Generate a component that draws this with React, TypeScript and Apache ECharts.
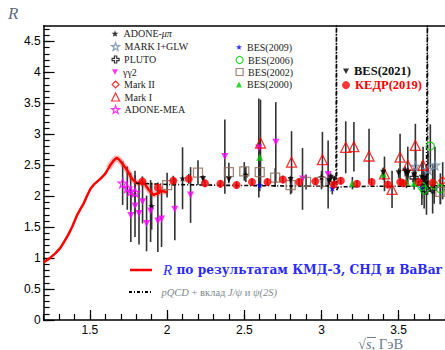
import React, { useEffect, useRef } from 'react';
import * as echarts from 'echarts';

// ---- axis ticks / labels ----
const xLabelTicks = [1.5, 2, 2.5, 3, 3.5];
const yLabelTicks = [0, 0.5, 1, 1.5, 2, 2.5, 3, 3.5, 4, 4.5];
const xMinorTicks = Array.from({ length: 27 }, (_, i) => Math.round((1.2 + i * 0.1) * 10) / 10);
const yMinorTicks = Array.from({ length: 48 }, (_, i) => Math.round(i * 0.1 * 10) / 10);

// ---- curves: [sqrt(s), R] ----
const redCurve = [
  [1.2, 0.93], [1.24, 1.0], [1.278, 1.08], [1.31, 1.17], [1.332, 1.26], [1.36, 1.38], [1.386, 1.51],
  [1.418, 1.7], [1.44, 1.8], [1.461, 1.89], [1.48, 2.0], [1.504, 2.12], [1.53, 2.2], [1.558, 2.26],
  [1.58, 2.31], [1.601, 2.37], [1.62, 2.45], [1.634, 2.51], [1.655, 2.58], [1.673, 2.62], [1.69, 2.59],
  [1.709, 2.53], [1.73, 2.46], [1.746, 2.4], [1.765, 2.31], [1.78, 2.26], [1.806, 2.21], [1.83, 2.22],
  [1.849, 2.22], [1.865, 2.16], [1.882, 2.1], [1.9, 2.05], [1.914, 2.02], [1.93, 2.04], [1.946, 2.05],
  [1.96, 2.09], [1.975, 2.08], [1.99, 2.07], [2.0, 2.06],
];
const pqcdCurve = [
  [1.8, 2.21], [2.0, 2.19], [2.4, 2.175], [2.8, 2.165], [3.0, 2.16], [3.08, 2.17], [3.094, 2.27],
  [3.0969, 4.9], [3.0985, 2.1], [3.11, 2.15], [3.3, 2.16], [3.6, 2.16], [3.68, 2.2], [3.686, 4.9],
  [3.688, 2.1], [3.7, 2.17], [3.8, 2.17],
];

// ---- measurements: [sqrt(s), R, error] ----
const adoneMuPi = [[1.9, 1.84, 0.38], [2.1, 2.29, 0.5], [2.51, 2.35, 0.12], [3.0, 2.31, 0.1]];
const markIGLW = [[3.61, 2.48, 0.25], [3.69, 2.43, 0.3], [3.735, 2.5, 0.3]];
const pluto = [[3.6, 2.3, 0.15], [3.65, 2.21, 0.35], [3.68, 2.1, 0.4], [3.72, 2.12, 0.4]];
const gg2 = [
  [1.765, 1.69, 0.43], [1.792, 1.84, 0.5], [1.818, 1.72, 0.5], [1.841, 1.91, 0.35], [1.867, 1.56, 0.45],
  [1.893, 1.76, 0.5], [1.94, 1.6, 0.5], [1.964, 1.63, 0.45], [2.05, 1.79, 0.5], [2.152, 2.02, 0.45],
  [2.374, 2.64, 0.6], [2.594, 2.78, 0.8], [2.704, 2.87, 0.65], [2.877, 2.28, 0.5], [3.043, 2.35, 0.55],
];
const markII = [[3.785, 2.25, 0.3]];
const markI = [
  [2.605, 2.86, 0.7], [2.806, 2.55, 0.5], [3.006, 2.59, 0.45], [3.157, 2.79, 0.42], [3.21, 2.8, 0.4],
  [3.308, 2.65, 0.44], [3.408, 2.36, 0.28], [3.457, 2.11, 0.3], [3.509, 2.63, 0.38], [3.559, 2.5, 0.3],
  [3.608, 2.82, 0.35], [3.658, 2.5, 0.3],
];
const adoneMEA = [[1.712, 2.21, 0.35], [1.742, 2.13, 0.35], [1.764, 2.08, 0.3], [1.792, 2.06, 0.35]];
const bes2009 = [[2.6, 2.18, 0.1], [3.07, 2.13, 0.1], [3.65, 2.14, 0.1]];
const bes2006 = [[3.65, 2.16, 0.2], [3.665, 2.1, 0.3], [3.705, 2.81, 0.35], [3.73, 2.18, 0.3], [3.77, 2.12, 0.25]];
const bes2002 = [
  [2.0, 2.18, 0.2], [2.2, 2.38, 0.2], [2.4, 2.39, 0.15], [2.5, 2.4, 0.15], [2.6, 2.39, 0.2], [2.7, 2.3, 0.15],
  [2.8, 2.18, 0.15], [2.9, 2.23, 0.12], [3.0, 2.23, 0.12], [3.77, 2.07, 0.2],
];
const bes2000 = [[2.6, 2.63, 0.3], [3.2, 2.21, 0.1], [3.4, 2.36, 0.1], [3.55, 2.23, 0.1], [3.6, 2.21, 0.1]];
const bes2021 = [
  [2.2324, 2.28, 0.06], [2.4, 2.27, 0.06], [2.8, 2.26, 0.06], [3.05, 2.24, 0.06], [3.06, 2.3, 0.07],
  [3.083, 2.27, 0.06], [3.4, 2.38, 0.08], [3.5, 2.37, 0.08], [3.5424, 2.4, 0.08], [3.5538, 2.36, 0.08],
  [3.5611, 2.38, 0.08], [3.6002, 2.34, 0.08], [3.65, 2.3, 0.08], [3.671, 2.28, 0.08],
];
const kedr2019 = [
  [1.84, 2.24, 0.08], [1.94, 2.14, 0.08], [2.04, 2.25, 0.08], [2.14, 2.28, 0.08], [2.245, 2.21, 0.06],
  [2.345, 2.2, 0.06], [2.45, 2.18, 0.06], [2.55, 2.23, 0.06], [2.65, 2.23, 0.06], [2.75, 2.27, 0.06],
  [2.855, 2.23, 0.06], [2.96, 2.24, 0.06], [3.08, 2.19, 0.06], [3.125, 2.25, 0.06], [3.23, 2.2, 0.06],
  [3.325, 2.23, 0.06], [3.43, 2.19, 0.06], [3.51, 2.23, 0.06], [3.53, 2.21, 0.06], [3.63, 2.23, 0.06],
  [3.72, 2.22, 0.06],
];

const STAR = 'path://M0,-10L2.35,-3.24L9.51,-3.09L3.8,1.24L5.88,8.09L0,4.2L-5.88,8.09L-3.8,1.24L-9.51,-3.09L-2.35,-3.24Z';
const CROSS = 'path://M-1,-3L1,-3L1,-1L3,-1L3,1L1,1L1,3L-1,3L-1,1L-3,1L-3,-1L-1,-1Z';
const DOWN = 'path://M-5,-4L5,-4L0,5Z';
const DASHDOT = 'path://M0,0H3V2H0Z M5,0H6V2H5Z M8,0H11V2H8Z M13,0H14V2H13Z M16,0H19V2H16Z M21,0H22V2H21Z';
const SERIF = '"Liberation Serif", "DejaVu Serif", serif';
const WIDE_SERIF = '"DejaVu Serif", "Liberation Serif", serif';
const SANS = '"Liberation Sans", Arial, sans-serif';

const RED_NAME = 'R по результатам КМД-3, СНД и BaBar';
const PQCD_NAME = 'pQCD + вклад J/ψ и ψ(2S)';

type Meas = number[][];
const sets: { name: string; data: Meas; symbol: string; size: number; lsize: number; color: string; open: boolean }[] = [
  { name: 'ADONE-μπ', data: adoneMuPi, symbol: STAR, size: 7, lsize: 7, color: '#000000', open: false },
  { name: 'MARK I+GLW', data: markIGLW, symbol: STAR, size: 9, lsize: 8, color: '#6f88a8', open: true },
  { name: 'PLUTO', data: pluto, symbol: CROSS, size: 8, lsize: 7, color: '#000000', open: true },
  { name: 'γγ2', data: gg2, symbol: DOWN, size: 7, lsize: 6, color: '#ff00ff', open: false },
  { name: 'Mark II', data: markII, symbol: 'diamond', size: 8, lsize: 7, color: '#ff0000', open: true },
  { name: 'Mark I', data: markI, symbol: 'triangle', size: 10, lsize: 8, color: '#ff0000', open: true },
  { name: 'ADONE-MEA', data: adoneMEA, symbol: STAR, size: 9, lsize: 8, color: '#ff00ff', open: true },
  { name: 'BES(2009)', data: bes2009, symbol: STAR, size: 7, lsize: 6, color: '#0000ff', open: false },
  { name: 'BES(2006)', data: bes2006, symbol: 'circle', size: 8, lsize: 7, color: '#00cc00', open: true },
  { name: 'BES(2002)', data: bes2002, symbol: 'rect', size: 9, lsize: 7, color: '#8b6658', open: true },
  { name: 'BES(2000)', data: bes2000, symbol: 'triangle', size: 7, lsize: 6, color: '#00cc00', open: false },
  { name: 'BES(2021)', data: bes2021, symbol: DOWN, size: 6, lsize: 6, color: '#000000', open: false },
  { name: 'КЕДР(2019)', data: kedr2019, symbol: 'circle', size: 8, lsize: 8, color: '#ff0000', open: false },
];

function styleOf(s: any) {
  return s.open
    ? { color: 'rgba(255,255,255,0)', borderColor: s.color, borderWidth: 1.2 }
    : { color: s.color, borderWidth: 0 };
}

function legendItem(item: any, left: number, cy: number, o: any) {
  const h = Math.max(o.itemHeight, o.lineHeight);
  return {
    data: [item],
    left,
    top: cy - h / 2,
    padding: 0,
    orient: 'vertical',
    selectedMode: false,
    itemWidth: o.itemWidth,
    itemHeight: o.itemHeight,
    formatter: o.formatter,
    textStyle: {
      fontFamily: o.fontFamily || SERIF,
      fontSize: o.fontSize,
      fontWeight: o.fontWeight || 'normal',
      color: o.color,
      lineHeight: o.lineHeight,
      padding: o.textPad || 0,
      rich: o.rich,
    },
  };
}

export default function App() {
  const ref = useRef<HTMLDivElement>(null);
  useEffect(() => {
    if (!ref.current) return;
    const chart = echarts.init(ref.current, undefined, { renderer: 'svg' });
    const allBars: number[][] = [];
    sets.forEach((s) => s.data.forEach((d) => allBars.push([d[0], d[1] - d[2], d[1] + d[2]])));

    const scatter = sets.map((s) => ({
      type: 'scatter',
      name: s.name,
      data: s.data.map((d) => [d[0], d[1]]),
      symbol: s.symbol,
      symbolSize: s.size,
      itemStyle: s.open ? { ...styleOf(s), borderWidth: 1.3 } : styleOf(s),
      z: 5,
      clip: true,
      silent: true,
    }));
    const byName: any = {};
    sets.forEach((s) => (byName[s.name] = s));
    const iconItem = (n: string) => ({ name: n, icon: byName[n].symbol, itemStyle: styleOf(byName[n]) });

    const leftNames = ['ADONE-μπ', 'MARK I+GLW', 'PLUTO', 'γγ2', 'Mark II', 'Mark I', 'ADONE-MEA'];
    const leftY = [33.5, 46.5, 59.5, 72, 84.5, 97, 109.5];
    const rightNames = ['BES(2009)', 'BES(2006)', 'BES(2002)', 'BES(2000)'];
    const rightY = [47, 60, 72, 84.5];
    const legends: any[] = [];
    const small = (n: string) => ({
      itemWidth: byName[n].lsize, itemHeight: byName[n].lsize, fontSize: 10, lineHeight: 12, color: '#222',
    });
    leftNames.forEach((n, i) => {
      const sz = byName[n].lsize;
      legends.push(
        legendItem(iconItem(n), 115 - sz / 2, leftY[i], {
          ...small(n),
          textPad: [0, 0, 0, 0],
          formatter: n === 'ADONE-μπ' ? 'ADONE-{i|μπ}' : '{name}',
          rich: { i: { fontStyle: 'italic', fontFamily: SERIF, fontSize: 10, color: '#222' } },
        })
      );
    });
    rightNames.forEach((n, i) => {
      const sz = byName[n].lsize;
      legends.push(legendItem(iconItem(n), 239 - sz / 2, rightY[i], small(n)));
    });
    legends.push(legendItem(iconItem('BES(2021)'), 343, 70.8, { itemWidth: 6, itemHeight: 6, fontSize: 12.5, fontWeight: 'bold', lineHeight: 12, color: '#111' }));
    legends.push(legendItem(iconItem('КЕДР(2019)'), 342, 84.6, { itemWidth: 8, itemHeight: 8, fontSize: 12.5, fontWeight: 'bold', lineHeight: 12, color: '#ff0000' }));
    legends.push(
      legendItem({ name: RED_NAME, icon: 'rect', itemStyle: { color: '#ff0000' } }, 130, 270, {
        itemWidth: 22, itemHeight: 2.5, fontSize: 12.2, fontWeight: 'bold', lineHeight: 16, color: '#2a2aff',
        fontFamily: WIDE_SERIF,
        textPad: [0, 0, 0, 6],
        formatter: '{i|R} по результатам КМД-3, СНД и BaBar',
        rich: { i: { fontStyle: 'italic', fontWeight: 'normal', fontFamily: SERIF, fontSize: 15, color: '#2a2aff' } },
      })
    );
    legends.push(
      legendItem({ name: PQCD_NAME, icon: DASHDOT, itemStyle: { color: '#000' } }, 129, 292, {
        itemWidth: 23, itemHeight: 2, fontSize: 10.5, lineHeight: 13, color: '#808890',
        textPad: [0, 0, 0, 5],
        formatter: '{i|pQCD} + вклад {i|J/ψ} и {i|ψ(2S)}',
        rich: { i: { fontStyle: 'italic', fontFamily: SERIF, fontSize: 10.5, color: '#808890' } },
      })
    );

    const option: any = {
      animation: false,
      backgroundColor: '#ffffff',
      grid: { left: 43.6, right: 0, top: 26, bottom: 30, containLabel: false },
      legend: legends,
      xAxis: [
        {
          type: 'value', min: 1.2, max: 3.8, position: 'bottom',
          axisLine: { show: true, onZero: false, lineStyle: { color: '#000', width: 1.5 } },
          axisTick: { show: true, inside: true, length: 10, customValues: xLabelTicks, lineStyle: { color: '#000', width: 1.2 } },
          axisLabel: { show: true, customValues: xLabelTicks, margin: 4, lineHeight: 11, fontFamily: SANS, fontSize: 12, color: '#000' },
          splitLine: { show: false },
        },
        {
          type: 'value', min: 1.2, max: 3.8, position: 'bottom',
          axisLine: { show: false },
          axisTick: { show: true, inside: true, length: 6, customValues: xMinorTicks, lineStyle: { color: '#000', width: 1.2 } },
          axisLabel: { show: false },
          splitLine: { show: false },
        },
        {
          type: 'value', min: 1.2, max: 3.8, position: 'top',
          axisLine: { show: true, onZero: false, lineStyle: { color: '#000', width: 1.5 } },
          axisTick: { show: false },
          axisLabel: { show: false },
          splitLine: { show: false },
        },
      ],
      yAxis: [
        {
          type: 'value', min: 0, max: 4.75, position: 'left',
          axisLine: { show: true, onZero: false, lineStyle: { color: '#000', width: 1.5 } },
          axisTick: { show: true, inside: true, length: 11, customValues: yLabelTicks, lineStyle: { color: '#000', width: 1.2 } },
          axisLabel: { show: true, customValues: yLabelTicks, margin: 3, fontFamily: SANS, fontSize: 12, color: '#000' },
          splitLine: { show: false },
        },
        {
          type: 'value', min: 0, max: 4.75, position: 'left',
          axisLine: { show: false },
          axisTick: { show: true, inside: true, length: 6, customValues: yMinorTicks, lineStyle: { color: '#000', width: 1.2 } },
          axisLabel: { show: false },
          splitLine: { show: false },
        },
      ],
      graphic: [
        { type: 'text', left: 8, top: 5, style: { text: 'R', font: `italic 17px ${SERIF}`, fill: '#5b6b7b' } },
        {
          type: 'text', left: 358, top: 336,
          style: {
            text: '√{s|s}, ГэВ', font: `14.5px ${SERIF}`, fill: '#6b7b8b',
            rich: { s: { fontStyle: 'italic', fontSize: 14.5, fontFamily: SERIF, fill: '#6b7b8b' } },
          },
        },
        { type: 'line', shape: { x1: 367, y1: 337.5, x2: 376, y2: 337.5 }, style: { stroke: '#6b7b8b', lineWidth: 1 } },
      ],
      series: [
        {
          type: 'custom', name: '_err', data: allBars, z: 2, silent: true, clip: true,
          encode: { x: 0, y: [1, 2] },
          renderItem: (params: any, api: any) => {
            const x = api.value(0);
            const p1 = api.coord([x, api.value(1)]);
            const p2 = api.coord([x, api.value(2)]);
            return {
              type: 'line',
              shape: { x1: p1[0], y1: p1[1], x2: p2[0], y2: p2[1] },
              style: { stroke: '#333', lineWidth: 1.6 },
            };
          },
        },
        {
          type: 'line', name: '_band', data: redCurve.filter((p) => p[0] >= 1.62), symbol: 'none', z: 3, silent: true,
          lineStyle: { color: 'rgba(255,40,40,0.3)', width: 6 },
        },
        {
          type: 'line', name: RED_NAME, data: redCurve, symbol: 'none', showSymbol: false, z: 4, silent: true,
          lineStyle: { color: '#ff0000', width: 2.5 }, itemStyle: { color: '#ff0000' },
        },
        {
          type: 'line', name: PQCD_NAME, data: pqcdCurve, symbol: 'none', showSymbol: false, z: 4, silent: true, clip: true,
          lineStyle: { color: '#000', width: 1.6, type: [4, 2, 1, 2] }, itemStyle: { color: '#000' },
        },
        ...scatter,
      ],
    };
    chart.setOption(option);
    return () => chart.dispose();
  }, []);
  return <div ref={ref} style={{ position: 'fixed', left: 0, top: 0, width: 445, height: 350, background: '#fff' }} />;
}
